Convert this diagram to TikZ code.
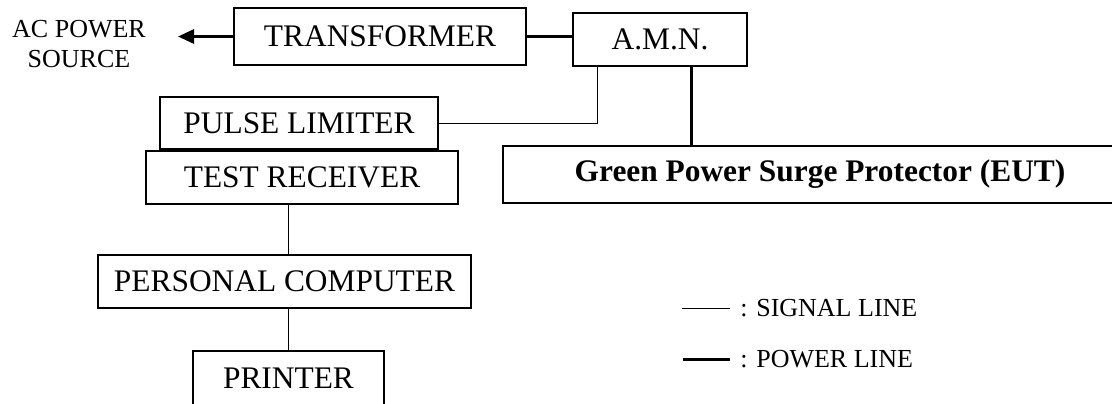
\documentclass[tikz,border=0pt]{standalone}
\usepackage{fontspec}
\setmainfont{Liberation Serif}
\usetikzlibrary{positioning,arrows.meta}

\begin{document}
\begin{tikzpicture}[
  x=0.5pt, y=-0.5pt,
  box/.style={draw, line width=0.6pt, inner sep=0pt, font=\fontsize{15.7}{18}\selectfont},
  signal/.style={line width=0.5pt},
  power/.style={line width=1.5pt},
  note/.style={font=\fontsize{13}{15}\selectfont, inner sep=0pt},
  >={Triangle[length=8pt,width=7pt]}
]
\useasboundingbox (0,0) rectangle (1112,403);
\node[box, minimum width=146pt, minimum height=28.5pt] (trans) at (380,36.5) {TRANSFORMER};
\node[box, minimum width=87pt, minimum height=26.5pt] (amn) at (660,39.5) {A.M.N.};
\node[box, minimum width=139pt, minimum height=26pt] (plim) at (299,123) {PULSE LIMITER};
\node[box, minimum width=156pt, minimum height=26.5pt] (recv) at (302,177.5) {TEST RECEIVER};
\node[box, minimum width=317pt, minimum height=28.5pt, font=\fontsize{15.7}{18}\selectfont\bfseries] (eut) at (820,174.5) {Green Power Surge Protector (EUT)};
\node[box, minimum width=186.5pt, minimum height=26.5pt] (pc) at (284.5,281.5) {PERSONAL COMPUTER};
\node[box, minimum width=95.5pt, minimum height=27pt] (prn) at (288.5,378) {PRINTER};
\node[note, align=center] (acsrc) at (79,44) {AC POWER\\SOURCE};
\coordinate (tip) at (178,37);
% power lines
\draw[power,->] (trans.west) -- (tip |- trans.west);
\draw[power] (trans.east) -- (trans.east -| amn.west);
\draw[power] (amn.south) ++(31,0) coordinate (tap) -- (tap |- eut.north);
% signal lines
\draw[signal] (amn.south west) ++(25,0) |- (plim.east);
\draw[signal] (recv.south -| prn.north) -- (pc.north -| prn.north);
\draw[signal] (pc.south -| prn.north) -- (prn.north);
% legend
\draw[signal] (682,308) coordinate (sigA) -- (730,308) coordinate (sigB);
\node[note, anchor=west] (sigtxt) at (740,308) {: SIGNAL LINE};
\draw[power] (683,359) coordinate (powA) -- (730,359) coordinate (powB);
\node[note, anchor=west] (powtxt) at (740,359) {: POWER LINE};
\end{tikzpicture}
\end{document}
